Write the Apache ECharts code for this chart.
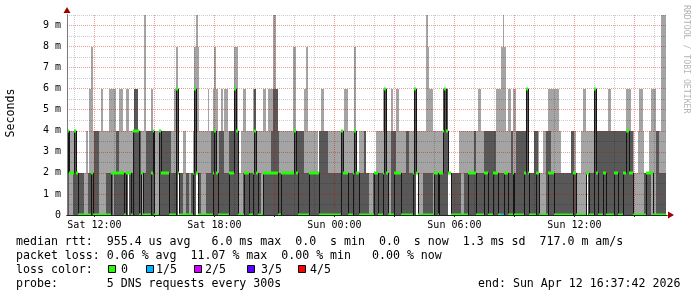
<!DOCTYPE html>
<html><head><meta charset="utf-8">
<script src="https://cdn.jsdelivr.net/npm/echarts@6/dist/echarts.min.js"></script>
<style>html,body{margin:0;padding:0;background:#fff;}#c{width:697px;height:297px;}</style>
</head><body><div id="c"></div>
<script>
// ---- per-5-minute step values (ms): 5 sorted pings -> p1 (lo), p2 (q1), p4 (q3), p5 (hi), median
const lo = [
0,0,0,0,0,0,0,0,0,0, 0,0,0,0,0,0,0,0,0,0, 0,0,0,0,0,0,0,0,0,0, 0,0,0,0,0,0,0,2,0,0,
0,0,0,0,0,0,0,0,0,0, 0,0,0,0,0,0,0,0,0,0, 0,0,0,0,0,0,0,2,0,0, 0,0,0,0,0,0,0,0,2,0,
0,0,0,0,0,0,0,0,0,0, 0,0,0,0,0,0,0,0,0,0, 0,0,0,0,0,0,0,0,0,0, 0,0,0,0,0,0,0,0,0,0,
0,0,0,0,0,0,0,0,0,0, 0,0,0,0,0,0,0,0,0,0, 0,0,0,0,0,0,0,0,0,0, 0,0,0,0,0,0,0,0,0,0,
0,0,0,0,0,0,0,0,0,0, 0,0,0,0,0,0,0,0,0,0, 0,0,0,0,0,0,0,0,0,0, 0,0,0,0,0,0,0,0,0,0,
0,0,0,0,0,0,0,0,0,0, 2,0,0,0,0,0,0,0,0,0, 0,0,0,0,0,0,0,0,0,2, 2,0,0,0,0,0,0,0,0,0,
0,0,0,0,0,0,0,0,0,0, 0,0,0,0,0,0,0,0,0,0, 0,0,0,0,0,0,0,0,0,0, 0,0,0,0,0,0,0,0,0,0,
0,0,0,0,0,0,0,0,0,0, 0,0,0,0,0,0,0,0,0,0, 0,0,0,0,0,0,0,0,0,0, 0,0,2,0,0,0,0,0,0,0,
0,0,0,0,0,0,0,0,0,0, 0,0,0,0,0,0,0,0,0,0, 0,0,0,0,0,0,0,0,0,0, 0,0,0,0,0,0,0,0,0,0
];
const q1 = [
0,0,2,2,0,0,0,0,0,0, 0,0,0,0,0,0,0,0,0,0, 0,0,0,0,0,0,0,0,2,0, 0,0,0,0,0,0,0,2,0,0,
0,0,0,0,0,2,0,0,0,0, 0,0,0,0,0,0,0,0,0,0, 0,0,0,0,0,0,0,2,0,0, 0,0,0,0,0,0,0,0,2,0,
0,0,0,0,0,0,0,0,0,0, 0,0,0,0,0,0,0,0,0,0, 0,0,0,0,0,0,0,0,0,0, 0,0,0,0,0,0,0,0,0,0,
0,0,0,0,0,0,0,0,0,0, 0,0,0,0,0,0,0,0,0,0, 0,0,0,0,0,0,0,0,0,0, 0,0,0,0,0,0,0,0,0,0,
0,0,0,0,0,0,0,0,0,0, 0,0,0,0,0,0,0,0,0,0, 0,0,0,0,0,0,0,0,0,0, 0,0,0,0,0,0,0,0,0,0,
0,0,0,0,0,0,0,0,0,0, 2,0,0,0,0,0,0,0,0,0, 0,0,0,0,0,0,0,0,0,2, 2,0,0,0,0,0,0,0,0,0,
0,0,0,0,0,0,0,0,0,0, 0,0,0,0,0,0,0,0,0,0, 0,0,0,0,0,0,0,0,0,0, 0,0,0,0,0,0,0,0,0,0,
0,0,0,0,0,0,0,0,0,0, 0,0,0,0,0,0,0,0,0,0, 0,0,0,0,0,0,0,0,0,0, 0,0,2,0,0,0,0,0,0,0,
0,0,0,0,0,0,0,0,0,0, 0,0,0,0,0,0,0,0,0,0, 0,0,0,0,0,0,0,0,0,0, 0,2,0,0,0,0,0,0,0,0
];
const q3 = [
4,4,2,2,2,4,2,0,2,2, 2,0,0,2,2,2,2,4,4,4, 0,0,0,0,2,2,2,2,2,2, 4,4,2,2,2,2,2,2,2,2,
4,6,6,4,4,2,0,2,4,4, 4,4,4,0,0,0,4,4,4,4, 4,4,4,2,2,2,6,2,2,2, 0,0,2,2,0,2,2,6,2,2,
2,0,0,0,2,2,2,4,4,4, 2,2,4,4,4,2,2,2,4,4, 4,6,4,0,0,0,2,2,2,2, 2,2,2,6,2,2,2,0,2,2,
2,2,2,4,6,6,6,4,2,2, 2,2,2,2,2,2,2,4,4,4, 4,4,4,2,2,2,2,2,2,2, 2,2,4,4,4,4,4,2,2,2,
2,2,2,2,2,4,4,2,2,2, 2,2,2,4,2,2,2,2,2,4, 2,2,0,0,2,2,2,2,2,2, 2,6,2,2,0,4,4,4,2,2,
2,2,2,2,4,4,2,2,2,6, 2,2,0,0,2,2,2,2,2,2, 0,2,2,2,2,2,6,6,6,2, 2,2,2,2,2,2,2,0,0,2,
2,2,2,2,2,4,2,2,2,2, 2,4,4,4,4,4,4,4,2,2, 2,2,2,2,2,2,2,4,2,2, 4,4,4,4,4,4,6,2,2,2,
2,4,4,2,0,0,0,0,4,4, 4,2,2,2,2,2,2,2,2,2, 2,2,2,4,4,2,0,0,0,0, 0,0,2,2,2,2,2,6,4,4,
4,4,4,4,4,4,4,4,4,4, 4,4,4,4,4,4,4,4,4,4, 2,0,0,0,0,0,0,2,2,2, 2,2,0,0,4,4,2,2,2,2
];
const hi = [
4,4,4,4,4,4,2,2,2,2, 2,2,4,2,6,8,4,4,4,4, 4,6,4,4,4,4,6,6,6,6, 4,4,6,6,4,4,6,6,4,4,
4,6,6,4,4,4,4,9.5,4,4, 4,6,4,4,4,4,4,4,4,4, 4,4,4,4,4,6,8,2,2,2, 4,4,2,2,2,2,4,8,9.5,8,
4,4,4,4,4,6,4,4,6,8, 6,4,4,6,4,6,6,4,4,4, 4,8,8,2,2,4,6,6,4,4, 4,4,6,6,4,4,4,4,6,6,
4,6,6,6,9.5,9.5,6,4,4,4, 4,4,4,4,4,4,8,8,4,4, 4,4,4,6,8,4,4,4,4,4, 4,2,4,6,6,4,4,4,4,4,
4,4,4,4,4,4,4,6,6,4, 4,4,4,8,2,2,4,4,4,4, 2,2,2,2,2,2,4,4,4,4, 6,6,4,4,4,6,4,4,6,6,
4,4,4,4,4,4,4,4,4,6, 4,4,4,4,4,4,9.5,8,6,6, 4,4,4,4,4,4,6,6,6,2, 2,2,2,2,2,2,4,4,4,4,
4,4,4,4,4,4,4,6,6,4, 4,4,4,4,4,4,4,4,6,6, 6,8,9.5,8,4,6,6,4,6,6, 4,4,4,4,4,4,6,6,2,2,
2,4,4,4,2,2,4,4,4,6, 6,6,6,6,6,6,4,2,2,2, 2,2,2,4,4,4,2,2,2,4, 6,6,4,4,4,4,4,6,4,4,
4,4,4,4,4,6,6,4,4,4, 4,4,4,4,4,4,6,6,6,4, 4,2,2,4,6,6,4,2,2,2, 4,6,6,6,4,4,4,9.5,9.5,9.5
];
const med = [
2,4,2,2,2,4,2,0,0,0, 0,0,0,0,0,2,0,0,0,0, 0,0,0,0,0,0,0,2,2,2, 2,2,2,2,2,0,2,2,2,0,
4,4,4,4,0,2,0,0,0,0, 0,2,4,0,0,0,4,2,2,2, 2,2,0,0,0,0,6,2,0,0, 0,0,0,0,0,0,2,6,2,0,
0,0,0,0,0,0,0,0,2,4, 2,0,0,0,0,0,0,0,2,2, 2,6,4,0,0,0,0,2,2,2, 0,0,2,4,2,0,0,0,2,2,
2,2,2,2,2,2,2,0,0,2, 2,2,2,2,2,2,2,4,2,0, 0,0,0,0,0,0,2,2,2,2, 2,2,0,0,0,0,0,0,0,0,
0,0,0,0,0,4,2,2,2,0, 0,0,2,4,2,2,0,0,0,0, 0,0,0,0,0,2,2,0,0,0, 2,6,2,0,0,0,0,2,2,2,
2,0,0,0,0,0,0,0,2,6, 2,0,0,0,0,0,0,0,0,0, 0,2,2,0,2,2,4,6,4,2, 2,0,0,0,0,0,0,0,0,0,
0,2,2,2,2,2,0,0,0,0, 0,2,2,0,0,0,2,2,2,0, 0,0,0,2,2,0,0,0,2,0, 0,0,0,0,0,2,6,2,0,0,
0,0,2,2,0,0,0,0,0,2, 2,2,2,0,0,0,0,0,0,0, 0,0,0,0,2,2,0,0,0,0, 0,0,2,2,0,0,0,6,2,0,
0,0,2,2,0,0,0,0,0,2, 2,0,0,0,2,2,4,4,2,2, 0,0,0,0,0,0,0,0,2,2, 2,2,0,0,0,0,0,0,0,0
];
// steps with lost packets: [step index, pings lost out of 5]
const lossEvents = [[261,1],[262,1]];

// ---- axis / legend texts
const xTickHours  = [12, 18, 24, 30, 36];
const xTickLabels = ['Sat 12:00','Sat 18:00','Sun 00:00','Sun 06:00','Sun 12:00'];
const yTickValues = [0,1,2,3,4,5,6,7,8,9];
const yTickLabels = ['0','1 m','2 m','3 m','4 m','5 m','6 m','7 m','8 m','9 m'];
const lossLabels  = ['0','1/5','2/5','3/5','4/5'];
const lossColors  = ['#22ff00','#00b4ff','#d200ff','#5c00ff','#ff0000'];
const statsLines = [
  'median rtt:  955.4 us avg   6.0 ms max  0.0  s min  0.0  s now  1.3 ms sd  717.0 m am/s',
  'packet loss: 0.06 % avg  11.07 % max  0.00 % min   0.00 % now',
  'loss color:',
  'probe:       5 DNS requests every 300s'
];
const endText = 'end: Sun Apr 12 16:37:42 2026';

// ---- time frame (hours since Sat 00:00)
const STEP_START_H = 10 + 35/60;
const STEP_H = 5/60;
const AXIS_MIN_H = 10 + 37/60 + 42/3600;
const AXIS_MAX_H = AXIS_MIN_H + 30;

const loss = med.map(() => 0);
lossEvents.forEach(([k, n]) => { loss[k] = n; });
const rows = med.map((v, k) => [
  STEP_START_H + k*STEP_H, STEP_START_H + (k+1)*STEP_H,
  lo[k], q1[k], q3[k], hi[k], med[k], loss[k], k > 0 ? med[k-1] : med[k]
]);

const hourGrey = [], hourRed = [];
for (let h = 11; h <= 40; h++) (h % 3 === 0 ? hourRed : hourGrey).push(h);
const yGrey = [], yRed = [];
for (let v = 0.5; v <= 9.5; v += 1) yGrey.push(v);
for (let v = 1; v <= 9; v++) yRed.push(v);

const mono = '"DejaVu Sans Mono", monospace';
const greyLine = {color:'rgba(0,0,0,0.2)', type:[1,1], width:1};
const redLine = {color:'rgba(215,0,0,0.4)', type:[1,1], width:1};

function baseX(extra){ return Object.assign({type:'value', min:AXIS_MIN_H, max:AXIS_MAX_H, gridIndex:0, position:'bottom', offset:0,
  axisLine:{show:false}, axisTick:{show:false}, axisLabel:{show:false}, splitLine:{show:false}}, extra); }
function baseY(extra){ return Object.assign({type:'value', min:0, max:9.5, gridIndex:0, position:'left', offset:0,
  axisLine:{show:false}, axisTick:{show:false}, axisLabel:{show:false}, splitLine:{show:false}}, extra); }

function txt(x, y, s, size, color, extra){
  return Object.assign({type:'text', x:x, y:y, silent:true, z:10,
    style:{text:s, font:size+'px '+mono, fill:color||'#000', align:'left', verticalAlign:'middle',
           textAlign:'left', textVerticalAlign:'middle'}}, extra||{});
}
const graphics = [];
statsLines.forEach((s, i) => graphics.push(txt(16, 241.5 + i*14, s, 11.6)));
graphics.push(txt(478, 283.5, endText, 11.6));
const boxX = [108, 146, 194, 247, 298];
const lblCol = [15, 20, 27, 35, 42];
lossLabels.forEach((l, i) => {
  graphics.push({type:'rect', silent:true, z:10, shape:{x:boxX[i]+0.5, y:265.5, width:7, height:7},
    style:{fill:lossColors[i], stroke:'#000', lineWidth:1}});
  graphics.push(txt(16 + lblCol[i]*7, 269.5, l, 11.6));
});
graphics.push({type:'text', x:11, y:113, rotation:Math.PI/2, silent:true, z:10,
  style:{text:'Seconds', font:'11.6px '+mono, fill:'#000', align:'center', verticalAlign:'middle',
         textAlign:'center', textVerticalAlign:'middle'}});
graphics.push({type:'text', x:686, y:5, rotation:-Math.PI/2, silent:true, z:10,
  style:{text:'RRDTOOL / TOBI OETIKER', font:'8.2px '+mono, fill:'#b4b4b4', align:'left', verticalAlign:'middle',
         textAlign:'left', textVerticalAlign:'middle'}});

const chart = echarts.init(document.getElementById('c'), null, {renderer:'canvas'});
chart.setOption({
  animation:false,
  backgroundColor:'#ffffff',
  grid:{left:67, right:30, top:15, bottom:82, containLabel:false},
  xAxis:[
    baseX({z:2, axisTick:{show:false, customValues:hourGrey}, splitLine:{show:true, lineStyle:greyLine}}),
    baseX({z:2, axisTick:{show:false, customValues:hourRed}, splitLine:{show:true, lineStyle:redLine},
      axisLine:{show:true, onZero:false, lineStyle:{color:'#a00000', width:1}, symbol:['none','triangle'], symbolSize:[7,6], symbolOffset:[0,4]}}),
    baseX({z:6, axisLine:{show:true, onZero:false, lineStyle:{color:'#222', width:1}},
      axisTick:{show:true, length:2, customValues:hourRed, lineStyle:{color:'#222'}},
      axisLabel:{show:true, customValues:xTickHours, margin:5, fontFamily:'DejaVu Sans Mono', fontSize:10, color:'#000',
        formatter:v => xTickLabels[xTickHours.indexOf(v)]}})
  ],
  yAxis:[
    baseY({z:2, axisTick:{show:false, customValues:yGrey}, splitLine:{show:true, lineStyle:greyLine}}),
    baseY({z:2, axisTick:{show:false, customValues:yRed}, splitLine:{show:true, lineStyle:redLine},
      axisLine:{show:true, onZero:false, lineStyle:{color:'#a00000', width:1}, symbol:['none','triangle'], symbolSize:[7,6], symbolOffset:[0,5]}}),
    baseY({z:6, axisLine:{show:true, onZero:false, lineStyle:{color:'#7a7a7a', width:1}},
      axisLabel:{show:true, customValues:yTickValues, margin:6, fontFamily:'DejaVu Sans Mono', fontSize:10, color:'#000',
        formatter:v => yTickLabels[yTickValues.indexOf(v)]}})
  ],
  graphic: graphics,
  series:[
    { // smoke
      type:'custom', xAxisIndex:0, yAxisIndex:0, z:1, clip:true, silent:true, data:rows,
      renderItem(params, api){
        const t0 = api.value(0), t1 = api.value(1);
        const a = api.value(2), b = api.value(3), c = api.value(4), d = api.value(5);
        const xa = Math.round(api.coord([t0, 0])[0]), xb = Math.round(api.coord([t1, 0])[0]);
        const y = v => Math.round(api.coord([t0, v])[1]);
        const ch = [];
        if (d > a) ch.push({type:'rect', shape:{x:xa, y:y(d), width:xb-xa, height:y(a)-y(d)}, style:{fill:'#a4a4a4'}});
        if (c > b) ch.push({type:'rect', shape:{x:xa, y:y(c), width:xb-xa, height:y(b)-y(c)}, style:{fill:'#585858'}});
        return {type:'group', children:ch};
      }
    },
    { // median line (black)
      type:'custom', xAxisIndex:0, yAxisIndex:0, z:3, clip:true, silent:true, data:rows,
      renderItem(params, api){
        const t0 = api.value(0), t1 = api.value(1), m = api.value(6), pm = api.value(8);
        const xa = Math.round(api.coord([t0, 0])[0]), xb = Math.round(api.coord([t1, 0])[0]);
        const ym = api.coord([t0, m])[1], yp = api.coord([t0, pm])[1];
        const ch = [{type:'line', shape:{x1:xa, y1:ym, x2:xb, y2:ym}, style:{stroke:'#151515', lineWidth:1}}];
        if (pm !== m) ch.push({type:'line', shape:{x1:xa+0.5, y1:yp, x2:xa+0.5, y2:ym}, style:{stroke:'#151515', lineWidth:1}});
        return {type:'group', children:ch};
      }
    },
    { // median band coloured by loss
      type:'custom', xAxisIndex:0, yAxisIndex:0, z:4, clip:true, silent:true, data:rows,
      renderItem(params, api){
        const t0 = api.value(0), t1 = api.value(1), m = api.value(6), l = api.value(7);
        const xa = Math.round(api.coord([t0, 0])[0]), xb = Math.round(api.coord([t1, 0])[0]);
        const ym = Math.round(api.coord([t0, m])[1]);
        return {type:'rect', shape:{x:xa, y:ym-1.5, width:xb-xa, height:3}, style:{fill:lossColors[l]}};
      }
    }
  ]
});
</script></body></html>
